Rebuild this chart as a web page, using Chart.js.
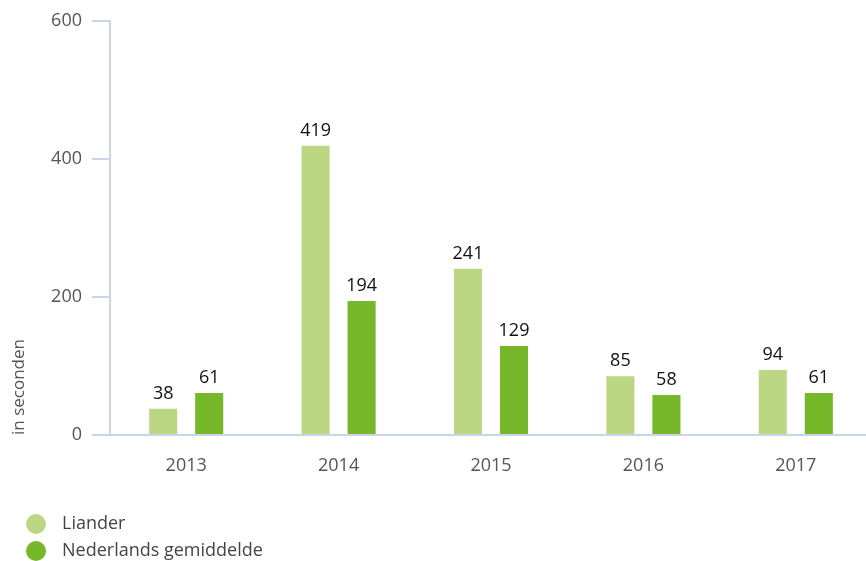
<!DOCTYPE html>
<html>
<head>
<meta charset="utf-8">
<script src="https://cdn.jsdelivr.net/npm/chart.js@4/dist/chart.umd.min.js"></script>
<style>
  html, body { margin: 0; padding: 0; background: #fff; }
  #wrap { width: 866px; height: 561px; overflow: hidden; position: relative; }
  #inner { width: 872px; height: 561px; position: relative; }
</style>
</head>
<body>
<div id="wrap"><div id="inner"><canvas id="chart"></canvas></div></div>
<script>
// Data
const years = ['2013', '2014', '2015', '2016', '2017'];
const liander = [38, 419, 241, 85, 94];
const nederland = [61, 194, 129, 58, 61];
const seriesNames = ['Liander', 'Nederlands gemiddelde'];
const seriesColors = ['#bcd784', '#77b82a'];
const yTitle = 'in seconden';

const FONT = '"Open Sans", "Liberation Sans", sans-serif';
const AXIS_COLOR = '#cad5ec';

// value labels on top of every bar
const valueLabels = {
  id: 'valueLabels',
  afterDatasetsDraw(chart) {
    const ctx = chart.ctx;
    ctx.save();
    ctx.font = '18px ' + FONT;
    ctx.fillStyle = '#111';
    ctx.textAlign = 'center';
    ctx.textBaseline = 'bottom';
    chart.data.datasets.forEach((ds, i) => {
      chart.getDatasetMeta(i).data.forEach((bar, j) => {
        ctx.fillText(ds.data[j], bar.x, bar.y - 6);
      });
    });
    ctx.restore();
  }
};

// y title sits at the bottom of the axis, legend is stacked under the chart
const extras = {
  id: 'extras',
  afterDraw(chart) {
    const ctx = chart.ctx;
    const bottom = chart.chartArea.bottom;
    ctx.save();
    ctx.font = '17px ' + FONT;
    ctx.fillStyle = '#555';
    ctx.translate(24, bottom);
    ctx.rotate(-Math.PI / 2);
    ctx.textAlign = 'left';
    ctx.textBaseline = 'alphabetic';
    ctx.fillText(yTitle, 0, 0);
    ctx.restore();

    ctx.save();
    ctx.font = '18px ' + FONT;
    ctx.textBaseline = 'middle';
    ctx.textAlign = 'left';
    seriesNames.forEach((name, i) => {
      const y = 524 + i * 27;
      ctx.fillStyle = seriesColors[i];
      ctx.beginPath();
      ctx.arc(36, y, 10, 0, Math.PI * 2);
      ctx.fill();
      ctx.fillStyle = '#444';
      ctx.fillText(name, 62, y);
    });
    ctx.restore();
  }
};

new Chart(document.getElementById('chart'), {
  type: 'bar',
  data: {
    labels: years,
    datasets: [
      { label: seriesNames[0], data: liander, backgroundColor: seriesColors[0] },
      { label: seriesNames[1], data: nederland, backgroundColor: seriesColors[1] }
    ]
  },
  options: {
    responsive: true,
    maintainAspectRatio: false,
    animation: false,
    categoryPercentage: 0.604,
    barPercentage: 0.61,
    layout: { padding: { top: 20, right: 0, left: 0, bottom: 0 } },
    plugins: {
      legend: { display: false },
      tooltip: { enabled: false }
    },
    scales: {
      x: {
        grid: { display: false },
        border: { display: true, color: AXIS_COLOR, width: 2 },
        ticks: { color: '#555', font: { family: FONT, size: 18 }, padding: 12 },
        afterFit: s => { s.height = 126; }
      },
      y: {
        min: 0,
        max: 600,
        ticks: { stepSize: 200, color: '#555', font: { family: FONT, size: 18 }, padding: 10 },
        grid: { drawOnChartArea: false, drawTicks: true, tickLength: 18, color: AXIS_COLOR, lineWidth: 2 },
        border: { display: true, color: AXIS_COLOR, width: 2 },
        afterFit: s => { s.width = 110; }
      }
    }
  },
  plugins: [valueLabels, extras]
});
</script>
</body>
</html>
